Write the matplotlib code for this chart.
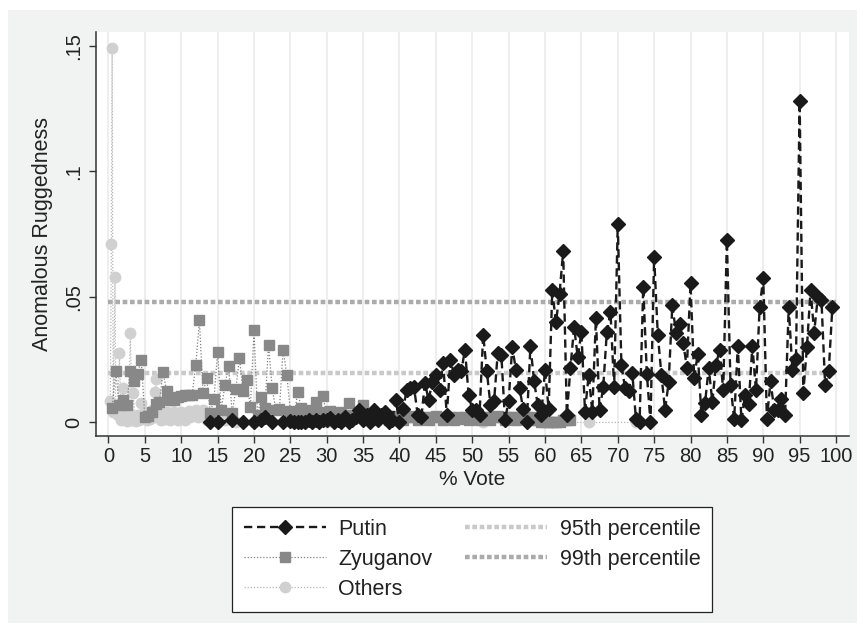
import matplotlib
matplotlib.use('Agg')
import matplotlib.pyplot as plt
import numpy as np
from matplotlib.patches import Rectangle

plt.rcParams['font.family'] = ['Liberation Sans', 'DejaVu Sans']

# ---- data --------------------------------------------------------------
putin_x = [14, 15, 17, 18.5, 20, 21, 21.5, 22.5, 24, 25, 25.5, 26, 26.5, 27, 27.5,
           28, 28.5, 29, 29.5, 30, 30.5, 31, 31.5, 32, 32.5, 33, 33.5, 34, 34.5,
           35, 35.5, 36, 36.5, 37, 37.5, 38, 38.5, 39, 39.5, 40] + \
          list(np.arange(40.5, 100, 0.5))
putin_y = [0.0, 0.0, 0.001, 0.0, 0.0, 0.001, 0.002, 0.0, 0.0, 0.0005, 0.0, 0.0, 0.0,
           0.0, 0.001, 0.0, 0.001, 0.0, 0.001, 0.001, 0.0017, 0.0, 0.001, 0.0, 0.002,
           0.0, 0.001, 0.002, 0.0048, 0.001, 0.003, 0.0, 0.005, 0.001, 0.003, 0.004,
           0.0, 0.001, 0.009, 0.0,
           # 40.5 - 99.5
           0.0055, 0.013, 0.0138, 0.014, 0.003, 0.002, 0.0157, 0.009, 0.016, 0.019,
           0.013, 0.0235, 0.003, 0.025, 0.019, 0.021, 0.0205, 0.029, 0.011, 0.005,
           0.005, 0.003, 0.035, 0.0205, 0.007, 0.0085, 0.0276, 0.027, 0.0008, 0.0087,
           0.030, 0.021, 0.0137, 0.0053, 0.0003, 0.0305, 0.0165, 0.007, 0.003, 0.021,
           0.0053, 0.0526, 0.0398, 0.0513, 0.0683, 0.003, 0.0218, 0.038, 0.026, 0.036,
           0.0043, 0.019, 0.0043, 0.0414, 0.0048, 0.014, 0.036, 0.044, 0.014, 0.079,
           0.023, 0.0137, 0.0125, 0.0197, 0.0013, 0.0, 0.054, 0.0193, 0.0, 0.066,
           0.035, 0.019, 0.005, 0.016, 0.0467, 0.0358, 0.039, 0.0318, 0.0218, 0.0555,
           0.0178, 0.0274, 0.003, 0.0077, 0.0218, 0.0082, 0.023, 0.029, 0.0128, 0.0727,
           0.015, 0.0013, 0.0305, 0.0008, 0.011, 0.0074, 0.0305, 0.0128, 0.046, 0.0575,
           0.0013, 0.0165, 0.005, 0.005, 0.0093, 0.003, 0.046, 0.021, 0.0254, 0.128,
           0.0117, 0.030, 0.0526, 0.0358, 0.050, 0.0486, 0.015, 0.0205, 0.046]

zyuganov_x = list(np.arange(0.5, 64, 0.5))
zyuganov_y = [0.0056, 0.0205, 0.007, 0.009, 0.0069, 0.0205, 0.0165, 0.0194, 0.025, 0.002,
              0.0025, 0.004, 0.0075, 0.0083, 0.020, 0.0125, 0.009, 0.0088, 0.010, 0.0105,
              0.0108, 0.011, 0.011, 0.0229, 0.0406, 0.0117, 0.0178, 0.0038, 0.0093, 0.0282,
              0.005, 0.0148, 0.0226, 0.0037, 0.0133, 0.0257, 0.0125, 0.0168, 0.006, 0.0366,
              0.003, 0.010, 0.0056, 0.031, 0.0138, 0.0048, 0.0053, 0.029, 0.019, 0.0045,
              0.002, 0.012, 0.0058, 0.003, 0.005, 0.002, 0.008, 0.004, 0.0106, 0.002,
              0.0045, 0.002, 0.003, 0.004, 0.002, 0.0077, 0.003, 0.002, 0.004, 0.007,
              # 35.5 - 63.5
              0.002, 0.003, 0.001, 0.002, 0.003, 0.002, 0.001, 0.002, 0.0025, 0.002,
              0.001, 0.002, 0.0025, 0.002, 0.001, 0.002, 0.002, 0.001, 0.002, 0.0025,
              0.002, 0.001, 0.002, 0.002, 0.001, 0.002, 0.0015, 0.002, 0.001, 0.002,
              0.0025, 0.001, 0.002, 0.002, 0.001, 0.002, 0.0025, 0.002, 0.001, 0.002,
              0.002, 0.001, 0.002, 0.0015, 0.002, 0.001, 0.002, 0.001, 0.0, 0.0,
              0.0, 0.0, 0.0, 0.0, 0.001, 0.001, 0.001]

others_x = [0.25, 0.4, 0.5, 0.65, 0.9, 1.0, 1.25, 1.5, 1.75, 2.0,
            2.25, 2.5, 2.75, 3.0, 3.25, 3.4, 3.6, 3.8, 4.0, 4.25,
            4.5, 4.75, 5.0, 5.25, 5.5, 5.75, 6.0, 6.25, 6.4, 6.6,
            6.8, 7.0, 7.25, 7.5, 7.75, 8.0, 8.25, 8.5, 8.75, 9.0,
            9.25, 9.5, 9.75, 10.0, 10.25, 10.5, 10.75, 11.0, 11.25, 11.5,
            11.75, 12.0, 12.25, 12.5, 12.75, 13.0, 13.25, 13.5, 14.0, 15.0,
            16.0, 17.5, 20.0, 25.0, 30.0, 40.0, 51.5, 61.0, 66.0, 72.5]
others_y = [0.0085, 0.071, 0.149, 0.004, 0.058, 0.005, 0.003, 0.0275, 0.001, 0.0136,
            0.003, 0.0005, 0.004, 0.0357, 0.001, 0.0116, 0.002, 0.0005, 0.003, 0.001,
            0.0077, 0.002, 0.004, 0.001, 0.003, 0.0015, 0.005, 0.002, 0.0123, 0.0172,
            0.003, 0.004, 0.001, 0.003, 0.0015, 0.004, 0.002, 0.001, 0.003, 0.004,
            0.002, 0.001, 0.003, 0.004, 0.002, 0.001, 0.003, 0.0045, 0.002, 0.003,
            0.004, 0.005, 0.002, 0.004, 0.003, 0.005, 0.002, 0.001, 0.002, 0.0,
            0.001, 0.0, 0.0, 0.0, 0.0, 0.0, 0.0, 0.0, 0.0, 0.0]

p95 = 0.0196
p99 = 0.0481
pct_range = [0, 100]

x_ticks = list(range(0, 101, 5))
y_ticks = [0, 0.05, 0.1, 0.15]
y_tick_labels = ['0', '.05', '.1', '.15']

# ---- figure -------------------------------------------------------------
fig = plt.figure(figsize=(8.57, 6.32), dpi=100, facecolor='white')
fig.patches.append(Rectangle((8 / 857, 9 / 632), 1, 1 - 19 / 632, transform=fig.transFigure,
                             facecolor='#f1f3f2', edgecolor='none', zorder=-10))

ax = fig.add_axes([95.6 / 857, 1 - 435.5 / 632, (848.6 - 95.6) / 857, (435.5 - 32.3) / 632])
ax.set_facecolor('white')

ax.plot(pct_range, [p95, p95], color='#c9c9c9', lw=3.2, linestyle=(0, (1.05, 0.6)),
        label='95th percentile', zorder=1.5)
ax.plot(pct_range, [p99, p99], color='#ababab', lw=3.2, linestyle=(0, (1.05, 0.6)),
        label='99th percentile', zorder=1.5)

ax.plot(others_x, others_y, color='#b5b5b5', lw=0.9, linestyle=(0, (1, 1.5)),
        marker='o', ms=7.5, mfc='#d0d0d0', mec='#d0d0d0', label='Others', zorder=2)
ax.plot(zyuganov_x, zyuganov_y, color='#808080', lw=0.9, linestyle=(0, (1, 1.5)),
        marker='s', ms=7, mfc='#888888', mec='#888888', label='Zyuganov', zorder=3)
ax.plot(putin_x, putin_y, color='#1a1a1a', lw=1.7, linestyle=(0, (3.5, 2)),
        marker='D', ms=7.5, mfc='#1a1a1a', mec='#1a1a1a', label='Putin', zorder=5)

ax.set_xlim(-1.77, 101.73)
ax.set_ylim(-0.0052, 0.1553)
ax.set_xticks(x_ticks)
ax.set_xticklabels([str(t) for t in x_ticks])
ax.set_yticks(y_ticks)
ax.set_yticklabels(y_tick_labels, rotation=90, va='center')

ax.grid(axis='x', color='#ebebeb', lw=1.2)
ax.set_axisbelow(True)
for side in ['top', 'right']:
    ax.spines[side].set_visible(False)
for side in ['left', 'bottom']:
    ax.spines[side].set_color('#333333')
    ax.spines[side].set_linewidth(1.1)
ax.tick_params(axis='both', direction='out', length=5, width=1.0, color='#333333',
               labelsize=14.5, labelcolor='#222222')
ax.tick_params(axis='x', pad=3)
ax.tick_params(axis='y', pad=4)

ax.set_xlabel('% Vote', fontsize=15, color='#222222', labelpad=3)
ax.set_ylabel('Anomalous Ruggedness', fontsize=15.5, color='#222222', labelpad=8)

handles, labels = ax.get_legend_handles_labels()
order = ['Putin', 'Zyuganov', 'Others', '95th percentile', '99th percentile']
hmap = dict(zip(labels, handles))
leg = fig.legend([hmap[k] for k in order], order, ncol=2, loc='upper center',
                 bbox_to_anchor=(472 / 857, 1 - 507 / 632), fontsize=15.5,
                 frameon=True, fancybox=False, framealpha=1, edgecolor='#222222',
                 handlelength=3.8, handletextpad=0.6, columnspacing=1.5,
                 labelspacing=0.42, borderpad=0.55, borderaxespad=0)
leg.get_frame().set_linewidth(0.9)
for t in leg.get_texts():
    t.set_color('#222222')

fig.savefig('out.png', dpi=100, facecolor=fig.get_facecolor())
